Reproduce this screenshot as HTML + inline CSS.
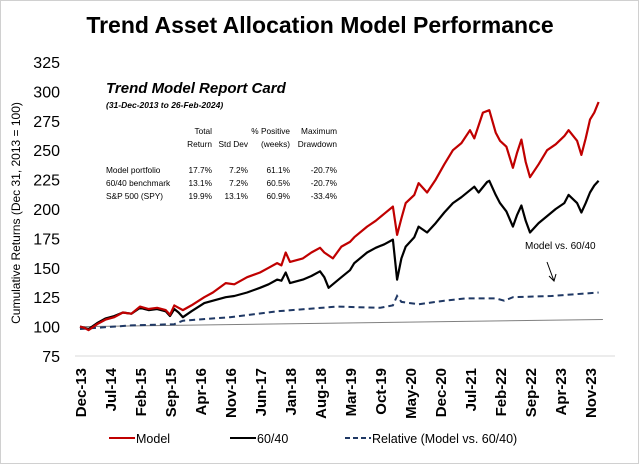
<!DOCTYPE html>
<html><head><meta charset="utf-8"><style>
body{margin:0;background:#fff;}
svg{display:block;font-family:"Liberation Sans",sans-serif;}
</style></head><body>
<svg id="c" width="639" height="464"></svg>
<script>
const yTicks=[75,100,125,150,175,200,225,250,275,300,325];
const xLabels=["Dec-13","Jul-14","Feb-15","Sep-15","Apr-16","Nov-16","Jun-17","Jan-18","Aug-18","Mar-19","Oct-19","May-20","Dec-20","Jul-21","Feb-22","Sep-22","Apr-23","Nov-23"];
const modelMonths=[0,1,2,4,6,8,10,12,14,16,18,20,21,22,23,24,26,29,31,34,36,39,42,44,46,47,48,49,52,54,56,57,59,61,63,64,67,69,71,73,74,75,76,78,79,81,83,85,87,89,91,92,94,95.5,97,98,99.5,101,102,103,104,105,107,109,111,113,114,116,117,118,119,120,121];
const modelVals=[100,99,97,102,106,108,112,111,117,115,116,114,110,118,116,114,118,125,129,137,136,142,146,150,154,152,163,155,158,163,167,163,158,168,172,176,185,190,196,202,178,192,205,212,222,214,225,238,250,256,267,260,282,284,265,258,253,235,248,259,240,227,238,250,255,262,267,258,246,260,276,282,291];
const benchMonths=[0,1,2,4,6,8,10,12,14,16,18,20,21,22,23,24,26,29,31,34,36,39,42,44,46,47,48,49,52,54,56,57,58,61,63,64,67,69,71,73,74,75,76,78,79,81,83,85,87,89,92,93,95,95.5,97,98,99.5,101,102,103,104,105,107,109,111,113,114,116,117,118,119,120,121];
const benchVals=[100,99,98,103,107,109,112,111,116,114,115,113,109,115,112,108,113,120,122,125,126,129,133,136,140,139,146,137,140,143,147,142,133,142,148,154,163,167,170,174,140,158,168,176,185,180,188,197,205,210,219,214,223,224,212,205,198,185,195,203,190,180,188,194,200,205,212,205,197,205,214,220,224];
const relMonths=[0,12,22,24,35,46,60,70,73,74,75,79,85,90,97,99,101,110,121];
const relVals=[98,101,102,105,108,113,117,116,118,126,121,119,122,124,124,122,125,126,129];
const baseMonths=[0,122];
const baseVals=[100,106];

const svg=document.getElementById('c');
const NS='http://www.w3.org/2000/svg';
const X0=80,PX=510/119,PL=75,PR=615;
const xs=m=>X0+m*PX;
const ys=v=>356-(v-75)/25*29.4;
function el(tag,attrs,txt){const e=document.createElementNS(NS,tag);for(const k in attrs)e.setAttribute(k,attrs[k]);if(txt!==undefined)e.textContent=txt;svg.appendChild(e);return e;}

let r=el('rect',{x:0.5,y:0.5,width:638,height:463,fill:'#fff',stroke:'#d0d0d0'});


let t=el('text',{x:320,y:33,'text-anchor':'middle','font-size':23,'font-weight':'bold',fill:'#000'},'Trend Asset Allocation Model Performance');



let g=el('line',{x1:PL,x2:PR,y1:ys(75),y2:ys(75),stroke:'#d9d9d9','stroke-width':1});



yTicks.forEach(v=>{
  const e=el('text',{x:60,y:ys(v)+6,'text-anchor':'end','font-size':16,fill:'#000'},String(v));
  
  
});
xLabels.forEach((l,i)=>{
  const x=xs(i*7)+6;
  const e=el('text',{x:x,y:368,'text-anchor':'end','font-size':15,'font-weight':'bold',fill:'#000',transform:`rotate(-90 ${x} 368)`},l);
  
  
});
let yt=el('text',{x:20,y:213,'text-anchor':'middle','font-size':12,fill:'#000',transform:'rotate(-90 20 213)'},'Cumulative Returns (Dec 31, 2013 = 100)');



function path(ms,vs){return ms.map((m,i)=>(i?'L':'M')+xs(m).toFixed(1)+','+ys(vs[i]).toFixed(1)).join('');}
let b=el('path',{d:path(baseMonths,baseVals),stroke:'#808080','stroke-width':1,fill:'none'});


let rl=el('path',{d:path(relMonths,relVals),stroke:'#1f3864','stroke-width':2,'stroke-dasharray':'6,4',fill:'none'});


let bl=el('path',{d:path(benchMonths,benchVals),stroke:'#000','stroke-width':2.2,fill:'none','stroke-linejoin':'round'});


let ml=el('path',{d:path(modelMonths,modelVals),stroke:'#c00000','stroke-width':2.2,fill:'none','stroke-linejoin':'round'});



let an=el('text',{x:525,y:249,'font-size':10,fill:'#000'},'Model vs. 60/40');


let ar=el('path',{d:'M547,262 L554,281 M549,276 L554,281 L556,274',stroke:'#000','stroke-width':1,fill:'none'});



let rc=el('text',{x:106,y:93,'font-size':15,'font-weight':'bold','font-style':'italic'},'Trend Model Report Card');


let rs=el('text',{x:106,y:108,'font-size':8.5,'font-weight':'bold','font-style':'italic'},'(31-Dec-2013 to 26-Feb-2024)');


const colX=[212,248,290,337];
const hdr1=['Total','','% Positive','Maximum'];
const hdr2=['Return','Std Dev','(weeks)','Drawdown'];
hdr1.forEach((h,i)=>{const e=el('text',{x:colX[i],y:134,'font-size':8.3,'text-anchor':'end'},h);});
hdr2.forEach((h,i)=>{const e=el('text',{x:colX[i],y:147,'font-size':8.3,'text-anchor':'end'},h);});
const rows=[['Model portfolio','17.7%','7.2%','61.1%','-20.7%'],['60/40 benchmark','13.1%','7.2%','60.5%','-20.7%'],['S&P 500 (SPY)','19.9%','13.1%','60.9%','-33.4%']];
rows.forEach((row,j)=>{
  const y=173+j*13;
  const e=el('text',{x:106,y:y,'font-size':8.3},row[0]);
  
  
  for(let i=0;i<4;i++){const c=el('text',{x:colX[i],y:y,'font-size':8.3,'text-anchor':'end'},row[i+1]);}
});

const leg=[['Model','#c00000',null,109],['60/40','#000',null,230],['Relative (Model vs. 60/40)','#1f3864','5,3',345]];
leg.forEach(l=>{
  const ln=el('line',{x1:l[3],x2:l[3]+26,y1:438,y2:438,stroke:l[1],'stroke-width':2});
  if(l[2])ln.setAttribute('stroke-dasharray',l[2]);
  
  
  const tx=el('text',{x:l[3]+27,y:443,'font-size':12.5},l[0]);
  
  
});
</script>
</body></html>
